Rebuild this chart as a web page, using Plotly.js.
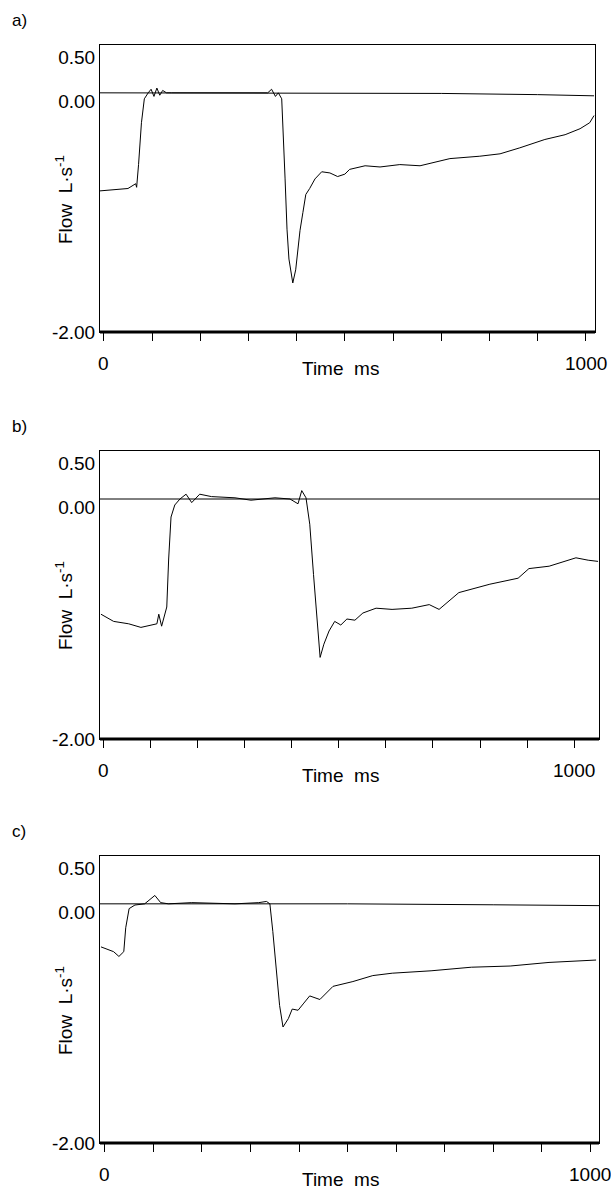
<!DOCTYPE html>
<html>
<head>
<meta charset="utf-8">
<script src="https://cdn.plot.ly/plotly-3.0.1.min.js"></script>
<style>body{margin:0;background:#fff}#chart{width:611px;height:1192px}</style>
</head>
<body>
<div id="chart"></div>
<script>
// flow traces (time ms, flow relative to the zero line)
const timeA = [-8, 20, 50, 66, 68, 72, 78, 84, 88, 92, 98, 104, 110, 116, 122, 130, 140, 200, 300, 340, 348, 356, 362, 369, 376, 380, 384, 392, 398, 407, 413, 419, 427, 438, 452, 469, 485, 500, 510, 542, 573, 614, 656, 718, 780, 822, 863, 915, 957, 988, 1008, 1017];
const flowA = [-0.82, -0.81, -0.80, -0.76, -0.79, -0.60, -0.25, -0.05, -0.02, 0.0, 0.03, -0.03, 0.04, -0.02, 0.02, 0.0, 0.0, 0.0, 0.0, 0.0, 0.03, -0.03, 0.0, -0.05, -0.72, -1.14, -1.39, -1.59, -1.48, -1.15, -1.0, -0.85, -0.80, -0.72, -0.66, -0.67, -0.70, -0.68, -0.64, -0.61, -0.62, -0.60, -0.61, -0.55, -0.53, -0.51, -0.46, -0.39, -0.35, -0.30, -0.25, -0.19];
const baseA = [0, 0, -0.005, -0.015, -0.025];
const baseTA = [-8, 400, 700, 900, 1017];

const timeB = [-6, 21, 53, 79, 113, 117, 123, 134, 138, 143, 151, 162, 175, 187, 204, 229, 279, 313, 364, 396, 413, 421, 430, 438, 446, 455, 460, 468, 479, 491, 504, 517, 534, 551, 579, 613, 655, 692, 713, 755, 821, 881, 904, 947, 1004, 1030, 1051];
const flowB = [-0.96, -1.02, -1.04, -1.07, -1.04, -0.96, -1.06, -0.90, -0.50, -0.15, -0.05, 0.0, 0.04, -0.03, 0.04, 0.02, 0.01, -0.01, 0.01, 0.0, -0.04, 0.07, 0.01, -0.21, -0.63, -1.10, -1.32, -1.21, -1.10, -1.02, -1.05, -1.00, -1.01, -0.95, -0.91, -0.92, -0.91, -0.88, -0.92, -0.78, -0.71, -0.66, -0.58, -0.56, -0.49, -0.51, -0.52];
const baseB = [0, 0, 0];
const baseTB = [-8, 500, 1053];

const timeC = [-8, 18, 29, 39, 43, 50, 62, 82, 103, 115, 131, 179, 268, 317, 333, 340, 346, 353, 360, 367, 378, 386, 398, 410, 422, 443, 470, 511, 552, 592, 672, 755, 835, 915, 1012];
const flowC = [-0.36, -0.40, -0.44, -0.40, -0.20, -0.04, -0.01, 0.0, 0.07, 0.01, 0.0, 0.01, 0.0, 0.01, 0.02, 0.0, -0.23, -0.57, -0.85, -1.03, -0.96, -0.88, -0.89, -0.83, -0.77, -0.80, -0.69, -0.65, -0.60, -0.58, -0.56, -0.53, -0.52, -0.49, -0.47];
const baseC = [0, 0, -0.008, -0.015];
const baseTC = [-10, 500, 800, 1018];

const panelLabels = ["a)", "b)", "c)"];
const yTickVals = [0.30, -0.07, -2.0];
const yTickText = ["0.50", "0.00", "-2.00"];
const xTickVals = [0, 100, 200, 300, 400, 500, 600, 700, 800, 900, 1000];
const xLabelVals = [0, 1000];

const font = {family: "Liberation Sans, Arial", size: 19, color: "#000"};
const line = {color: "#000", width: 1};

function trace(x, y, s) {
    return {x: x, y: y, xaxis: "x" + s, yaxis: "y" + s, mode: "lines", line: line, hoverinfo: "skip"};
}

const data = [
    trace(baseTA, baseA, ""), trace(timeA, flowA, ""),
    trace(baseTB, baseB, "2"), trace(timeB, flowB, "2"),
    trace(baseTC, baseC, "3"), trace(timeC, flowC, "3"),
];

// pixel boxes of the three panels: [left, right, top, bottom]
const boxes = [[100, 595, 45, 332], [100, 599, 451, 739], [100, 599, 856, 1143]];
const xRanges = [[-8, 1019], [-8, 1053], [-10, 1018]];
const W = 611, H = 1192;

const layout = {
    width: W, height: H, showlegend: false,
    margin: {l: 0, r: 0, t: 0, b: 0},
    paper_bgcolor: "#fff", plot_bgcolor: "#fff",
    font: font, shapes: [], annotations: [],
};

boxes.forEach((b, i) => {
    const s = i === 0 ? "" : String(i + 1);
    layout["xaxis" + s] = {
        domain: [b[0] / W, b[1] / W], range: xRanges[i], anchor: "y" + s,
        showline: true, mirror: true, linecolor: "#000", linewidth: 1,
        showgrid: false, zeroline: false,
        ticks: "outside", ticklen: 8, tickcolor: "#000",
        tickvals: xTickVals, showticklabels: false,
    };
    layout["yaxis" + s] = {
        domain: [1 - b[3] / H, 1 - b[2] / H], range: [-2.0, 0.40], anchor: "x" + s,
        showline: true, mirror: true, linecolor: "#000", linewidth: 1,
        showgrid: false, zeroline: false, ticks: "",
        tickvals: yTickVals, ticktext: yTickText, tickfont: font,
    };
    layout.shapes.push({
        type: "line", xref: "x" + s + " domain", yref: "y" + s + " domain",
        x0: 0, x1: 1, y0: 0, y1: 0, line: {color: "#000", width: 3},
    });
    xLabelVals.forEach((v) => {
        layout.annotations.push({
            text: String(v), xref: "x" + s, yref: "paper", x: v, y: 1 - (b[3] + 31) / H,
            showarrow: false, xanchor: "center", yanchor: "middle", font: font,
        });
    });
    layout.annotations.push(
        {text: panelLabels[i], xref: "paper", yref: "paper", x: 10 / W, y: 1 - (b[2] - 25) / H,
         showarrow: false, xanchor: "left", yanchor: "middle", font: {...font, size: 17}},
        {text: "Time  ms", xref: "paper", yref: "paper", x: 340 / W, y: 1 - (b[3] + 36) / H,
         showarrow: false, xanchor: "center", yanchor: "middle", font: font},
        {text: "Flow  L·s<sup>-1</sup>", xref: "paper", yref: "paper", x: 64 / W, y: 1 - (b[2] + 155) / H,
         showarrow: false, textangle: -90, xanchor: "center", yanchor: "middle", font: font}
    );
});

Plotly.newPlot("chart", data, layout, {displayModeBar: false, staticPlot: true});
</script>
</body>
</html>
